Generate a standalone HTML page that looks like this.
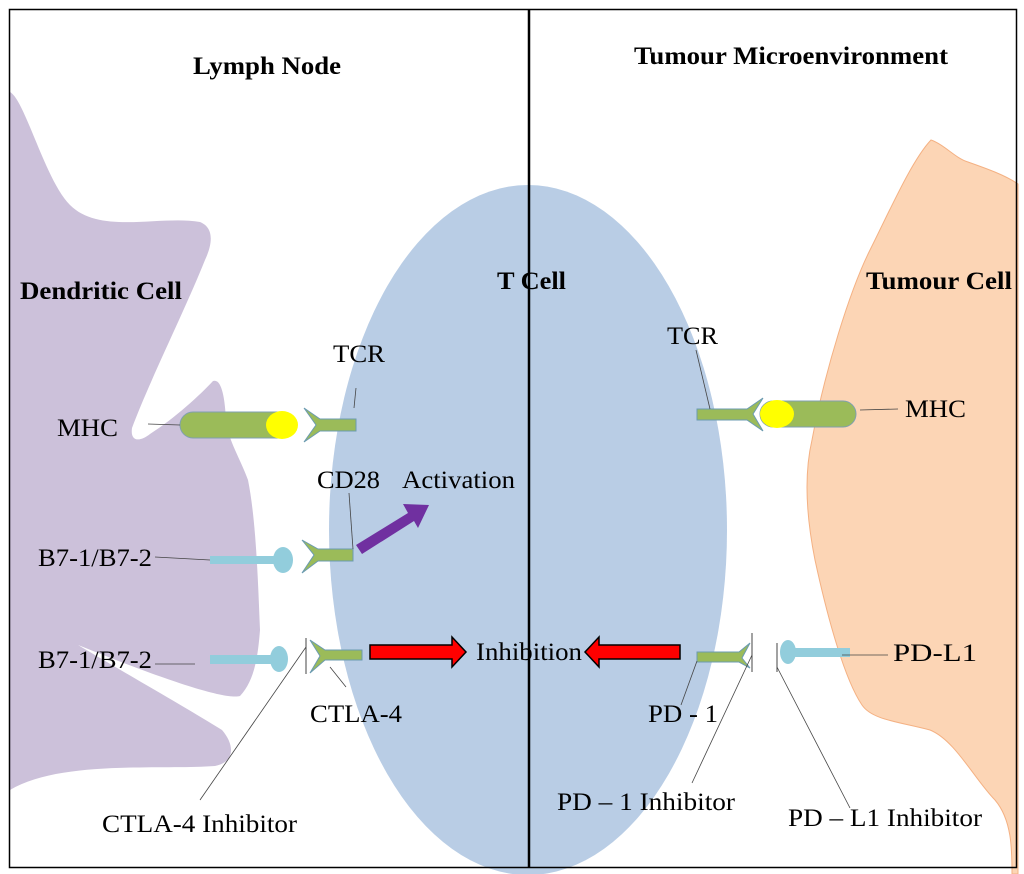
<!DOCTYPE html>
<html><head><meta charset="utf-8"><style>
html,body{margin:0;padding:0;background:#fff;}
svg{display:block;}
text{font-family:"Liberation Serif",serif;fill:#000;}
.b{font-weight:bold;font-size:25px;}
.l{font-size:25px;}
</style></head><body>
<svg width="1024" height="874" viewBox="0 0 1024 874" xmlns="http://www.w3.org/2000/svg">
<rect x="0" y="0" width="1024" height="874" fill="#fff"/>
<ellipse cx="528" cy="530" rx="199" ry="345" fill="#b9cde5"/>
<path d="M10,92 C25,100 45,180 70,205 C100,235 160,215 200,222 C215,228 212,245 205,260 C185,310 150,380 132,428 C130,442 140,442 150,434 C175,418 200,395 213,381 C222,378 225,400 226,420 C228,440 240,458 248,480 C256,520 258,580 260,630 C258,655 255,680 240,696 C225,700 165,680 78,645 C120,670 190,710 222,730 C235,745 235,762 215,766 C160,770 60,760 10,790 Z" fill="#ccc1da"/>
<path d="M931,140 C945,145 955,158 968,162 C985,168 1005,175 1018,184 L1018,874 L1012,874 C1012,850 1012,820 995,800 C975,780 955,740 930,730 C900,722 872,720 862,705 C845,680 828,620 815,560 C805,510 805,470 812,440 C825,370 850,290 870,250 C890,210 912,160 931,140 Z" fill="#fcd5b5" stroke="#f4b183" stroke-width="1"/>
<rect x="9.5" y="9.5" width="1007" height="858" fill="none" stroke="#000" stroke-width="1.5"/>
<line x1="529" y1="9" x2="529" y2="868" stroke="#000" stroke-width="2.5"/>
<text class="b" x="193" y="74" textLength="148" lengthAdjust="spacingAndGlyphs">Lymph Node</text>
<text class="b" x="634" y="64" textLength="314" lengthAdjust="spacingAndGlyphs">Tumour Microenvironment</text>
<text class="b" x="20" y="299" textLength="162" lengthAdjust="spacingAndGlyphs">Dendritic Cell</text>
<text class="b" x="497" y="289" textLength="69" lengthAdjust="spacingAndGlyphs">T Cell</text>
<text class="b" x="866" y="289" textLength="146" lengthAdjust="spacingAndGlyphs">Tumour Cell</text>
<rect x="180" y="412" width="110" height="26" rx="13" fill="#9bbb59" stroke="#7f9fb0" stroke-width="1"/>
<ellipse cx="282" cy="425" rx="16" ry="14" fill="#ffff00"/>
<line x1="148" y1="424" x2="180" y2="425" stroke="#444" stroke-width="0.8"/>
<text class="l" x="57" y="436" textLength="61" lengthAdjust="spacingAndGlyphs">MHC</text>
<path d="M304,408 L320,419 L356,419 L356,431 L320,431 L304,442 L316,425 Z" fill="#9bbb59" stroke="#6b9bb0" stroke-width="1"/>
<line x1="356" y1="388" x2="354" y2="408" stroke="#444" stroke-width="0.8"/>
<text class="l" x="333" y="362" textLength="52" lengthAdjust="spacingAndGlyphs">TCR</text>
<rect x="210" y="556" width="78" height="8" fill="#92cddc"/>
<ellipse cx="283" cy="560" rx="10" ry="13" fill="#92cddc"/>
<line x1="155" y1="557" x2="210" y2="560" stroke="#444" stroke-width="0.8"/>
<text class="l" x="38" y="566" textLength="114" lengthAdjust="spacingAndGlyphs">B7-1/B7-2</text>
<path d="M302,540 L318,549 L353,549 L353,561 L318,561 L302,573 L314,555 Z" fill="#9bbb59" stroke="#6b9bb0" stroke-width="1"/>
<line x1="349" y1="493" x2="353" y2="549" stroke="#444" stroke-width="0.8"/>
<text class="l" x="317" y="488" textLength="63" lengthAdjust="spacingAndGlyphs">CD28</text>
<polygon points="356,545 408,513 403,504 429,505 418,528 414,521 362,554" fill="#7030a0"/>
<text class="l" x="402" y="488" textLength="113" lengthAdjust="spacingAndGlyphs">Activation</text>
<rect x="210" y="655" width="70" height="9" fill="#92cddc"/>
<ellipse cx="279" cy="659" rx="9" ry="13" fill="#92cddc"/>
<line x1="155" y1="664" x2="195" y2="664" stroke="#444" stroke-width="0.8"/>
<text class="l" x="38" y="668" textLength="114" lengthAdjust="spacingAndGlyphs">B7-1/B7-2</text>
<path d="M310,640 L325,650 L362,650 L362,660 L325,660 L310,673 L320,656 Z" fill="#9bbb59" stroke="#6b9bb0" stroke-width="1"/>
<line x1="306" y1="638" x2="306" y2="674" stroke="#444" stroke-width="1"/>
<line x1="306" y1="647" x2="200" y2="800" stroke="#444" stroke-width="0.8"/>
<line x1="330" y1="667" x2="346" y2="687" stroke="#444" stroke-width="0.8"/>
<text class="l" x="310" y="722" textLength="92" lengthAdjust="spacingAndGlyphs">CTLA-4</text>
<text class="l" x="102" y="832" textLength="195" lengthAdjust="spacingAndGlyphs">CTLA-4 Inhibitor</text>
<polygon points="370,645 452,645 452,637 466,652 452,667 452,659 370,659" fill="#ff0000" stroke="#000" stroke-width="1.5"/>
<polygon points="680,645 599,645 599,637 585,652 599,667 599,659 680,659" fill="#ff0000" stroke="#000" stroke-width="1.5"/>
<text class="l" x="476" y="660" textLength="106" lengthAdjust="spacingAndGlyphs">Inhibition</text>
<path d="M697,409 L747,409 L763,398 L753,414 L763,431 L747,420 L697,420 Z" fill="#9bbb59" stroke="#6b9bb0" stroke-width="1"/>
<line x1="696" y1="350" x2="710" y2="409" stroke="#444" stroke-width="0.8"/>
<text class="l" x="667" y="344" textLength="51" lengthAdjust="spacingAndGlyphs">TCR</text>
<rect x="760" y="401" width="96" height="26" rx="13" fill="#9bbb59" stroke="#7f9fb0" stroke-width="1"/>
<ellipse cx="777" cy="414" rx="17" ry="14" fill="#ffff00"/>
<line x1="860" y1="410" x2="898" y2="409" stroke="#444" stroke-width="0.8"/>
<text class="l" x="905" y="417" textLength="61" lengthAdjust="spacingAndGlyphs">MHC</text>
<path d="M697,652 L739,652 L750,643 L742,658 L750,668 L739,662 L697,662 Z" fill="#9bbb59" stroke="#6b9bb0" stroke-width="1"/>
<line x1="752" y1="633" x2="752" y2="672" stroke="#444" stroke-width="1"/>
<line x1="777" y1="643" x2="777" y2="672" stroke="#444" stroke-width="1"/>
<line x1="697" y1="661" x2="681" y2="705" stroke="#444" stroke-width="0.8"/>
<line x1="752" y1="655" x2="692" y2="783" stroke="#444" stroke-width="0.8"/>
<line x1="777" y1="667" x2="850" y2="808" stroke="#444" stroke-width="0.8"/>
<text class="l" x="648" y="722" textLength="70" lengthAdjust="spacingAndGlyphs">PD - 1</text>
<text class="l" x="557" y="810" textLength="178" lengthAdjust="spacingAndGlyphs">PD – 1 Inhibitor</text>
<text class="l" x="788" y="826" textLength="194" lengthAdjust="spacingAndGlyphs">PD – L1 Inhibitor</text>
<rect x="786" y="648" width="64" height="9" fill="#92cddc"/>
<ellipse cx="788" cy="652" rx="8" ry="12" fill="#92cddc"/>
<line x1="842" y1="655" x2="888" y2="655" stroke="#444" stroke-width="0.8"/>
<text class="l" x="893" y="661" textLength="84" lengthAdjust="spacingAndGlyphs">PD-L1</text>
</svg>
</body></html>
